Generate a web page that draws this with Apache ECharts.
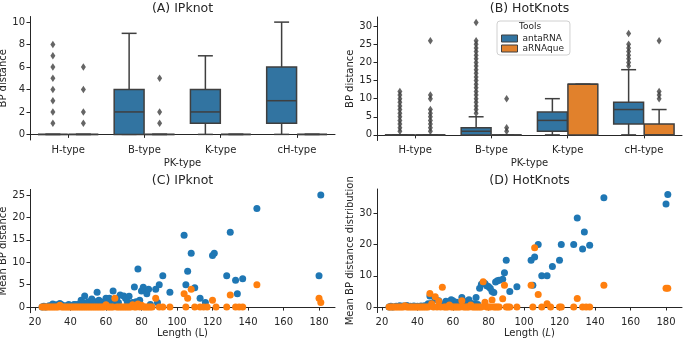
<!DOCTYPE html>
<html>
<head>
<meta charset="utf-8">
<script src="https://cdn.jsdelivr.net/npm/echarts@6/dist/echarts.min.js"></script>
<style>
  html, body { margin: 0; padding: 0; background: #fff; }
  #chart { width: 685px; height: 340px; }
</style>
</head>
<body>
<div id="chart"></div>
<script>
// ---- data ----
var pkTypes = ['H-type', 'B-type', 'K-type', 'cH-type'];

// box stats per PK-type: [min, q1, median, q3, max]
var ipknotAntaBox = [[0, 0, 0, 0, 0], [0, 0, 2, 4, 9], [0, 1, 2, 4, 7], [0, 1, 3, 6, 10]];
var ipknotAqueBox = [[0, 0, 0, 0, 0], [0, 0, 0, 0, 0], [0, 0, 0, 0, 0], [0, 0, 0, 0, 0]];
var ipknotAntaOut = [[1, 2, 3, 4, 5, 6, 7, 8], [], [], []];
var ipknotAqueOut = [[1, 2, 4, 6], [1, 2, 5], [], []];

var hotAntaBox = [[0, 0, 0, 0, 0], [0, 0, 1, 2, 5], [0, 1, 4, 6.3, 10], [0, 3, 7, 9, 18]];
var hotAqueBox = [[0, 0, 0, 0, 0], [0, 0, 0, 0, 0], [0, 0, 14, 14, 14], [0, 0, 0, 3, 7]];
var hotAntaOut = [
  [1, 2, 3, 4, 5, 6, 7, 8, 9, 10, 11, 12],
  [6, 7, 8, 9, 10, 11, 12, 13, 14, 15, 16, 17, 18, 19, 20, 21, 22, 23, 24, 25, 26, 31],
  [],
  [19, 20, 21, 22, 23, 24, 25, 28]
];
var hotAqueOut = [[1, 2, 3, 4, 5, 6, 7, 10, 11, 26], [1, 2, 10], [], [10, 11, 12, 26]];

// mean BP distance vs length [L, distance]
var ipknotLenAnta = [
  [24, 0], [25, 0.2], [26, 0], [28, 0.3], [30, 0.7], [32, 0.5], [34, 0.8], [35, 0.5], [37, 0.3],
  [39, 0.6], [40, 0.2], [42, 0.6], [43, 0.5], [44, 0.6], [46, 1.5], [47, 1], [48, 2.5], [50, 1.2],
  [52, 1.8], [53, 1.3], [54, 1], [55, 3.3], [56, 1.5], [57, 1.2], [58, 1], [60, 2], [61, 1.9],
  [62, 2], [63, 1], [64, 3.6], [65, 1], [66, 2], [67, 1], [68, 2.7], [70, 2.5], [71, 2], [72, 1.2],
  [73, 2.4], [74, 0.8], [75, 1], [76, 4.5], [77, 1.2], [78, 8.5], [79, 1.5], [80, 3.6], [81, 4.4],
  [82, 3.8], [83, 3], [84, 4], [85, 0.6], [88, 4], [89, 1], [90, 5], [92, 7], [96, 3.3], [104, 16],
  [105, 5], [106, 8], [108, 12], [110, 4.3], [113, 2], [116, 1], [120, 11.5], [121, 12], [128, 7],
  [130, 16.7], [133, 6], [134, 3], [137, 6.3], [145, 22], [180, 7], [181, 25]
];
var ipknotLenAque = [
  [24, 0], [25, 0], [26, 0], [27, 0], [28, 0], [29, 0], [30, 0], [31, 0], [32, 0], [33, 0], [34, 0.4],
  [35, 0], [36, 0], [37, 0], [38, 0], [39, 0], [40, 0], [41, 0], [42, 0], [43, 0], [44, 0], [45, 0],
  [46, 0], [47, 0], [48, 0], [49, 0], [50, 0], [51, 0], [52, 0], [53, 0], [54, 0], [55, 0], [56, 0],
  [57, 0], [58, 0], [59, 0], [60, 0.5], [61, 0], [62, 0], [63, 0], [64, 0], [65, 2], [66, 0], [67, 0],
  [68, 0], [69, 0], [70, 0], [71, 0], [72, 0], [73, 0], [74, 0], [75, 0.5], [76, 0], [77, 0],
  [78, 0.7], [79, 0], [80, 0.4], [81, 0], [82, 0], [83, 0], [84, 0], [85, 0], [86, 0], [88, 2],
  [90, 0], [92, 0], [96, 0], [104, 3], [105, 0], [106, 2], [108, 4], [110, 0], [113, 0], [115, 0],
  [117, 0], [120, 1.5], [122, 0], [128, 0], [130, 2.7], [133, 0], [135, 0], [137, 0], [145, 5],
  [180, 2], [181, 1]
];
var hotLenAnta = [
  [24, 0], [25, 0.2], [26, 0], [28, 0.2], [30, 0.4], [32, 0.3], [34, 0.5], [36, 0.2], [38, 0.3],
  [40, 0.2], [42, 0.3], [44, 0.4], [46, 1], [47, 3.5], [48, 1.2], [50, 2.5], [52, 2], [53, 1],
  [55, 0.8], [56, 1.8], [57, 1.5], [59, 2.3], [60, 2], [62, 1.5], [63, 0.8], [65, 3], [66, 1.5],
  [68, 1.8], [69, 2.3], [70, 1.2], [72, 1], [73, 3], [74, 0.8], [75, 6], [76, 7.3], [77, 7.8],
  [78, 7.5], [79, 6.8], [80, 6.6], [81, 6], [82, 5], [83, 4.6], [84, 8], [85, 8.4], [86, 8.6],
  [88, 8.9], [89, 11], [90, 15], [92, 5], [96, 6.5], [104, 15], [105, 7], [106, 16], [108, 20],
  [110, 10], [113, 10], [116, 13], [120, 15], [121, 20], [128, 20], [130, 28.5], [133, 18.6],
  [134, 24], [137, 19.8], [145, 35], [180, 33], [181, 36]
];
var hotLenAque = [
  [24, 0], [25, 0], [26, 0], [27, 0], [28, 0], [29, 0], [30, 0], [31, 0], [32, 0], [33, 0.4],
  [34, 0], [35, 0], [36, 0], [37, 0], [38, 0], [39, 0], [40, 0], [41, 0], [42, 0], [43, 0], [44, 0],
  [45, 0], [46, 0], [47, 4.3], [48, 1], [49, 0], [50, 3.3], [51, 0], [52, 1.8], [53, 0], [54, 6.3],
  [55, 0], [56, 0], [57, 0], [58, 0.6], [59, 0], [60, 0], [61, 0], [62, 0], [63, 0], [64, 0],
  [65, 2], [66, 0], [67, 0], [68, 0], [69, 0], [70, 0.6], [71, 0], [72, 0], [73, 0], [74, 0],
  [75, 0], [76, 0], [77, 8.1], [78, 1.5], [79, 0], [80, 0], [81, 0], [82, 2.2], [83, 0], [84, 0],
  [85, 0], [86, 0], [88, 2.6], [89, 7], [90, 0], [91, 0], [92, 0], [96, 0], [104, 7], [105, 0],
  [106, 19], [108, 4], [110, 0], [113, 1], [115, 0], [120, 0], [121, 0], [128, 0], [130, 2.7],
  [133, 0], [135, 0], [137, 0], [145, 7], [180, 6], [181, 6]
];

// tick labels
var ipknotBoxTicks = [0, 2, 4, 6, 8, 10];
var hotBoxTicks = [0, 5, 10, 15, 20, 25, 30];
var lengthTicks = [20, 40, 60, 80, 100, 120, 140, 160, 180];
var ipknotLenTicks = [0, 5, 10, 15, 20, 25];
var hotLenTicks = [0, 10, 20, 30];

// ---- style ----
var blueBox = '#3274a1', orangeBox = '#e1812c';
var blueDot = '#1f77b4', orangeDot = '#ff7f0e';
var edge = '#3f3f3f';
var ink = '#262626';
var plotW = 305;
var bandOffset = plotW / pkTypes.length * 0.2;

function boxRender(side, fill) {
  return function (params, api) {
    var cat = api.value(0);
    var band = api.size([1, 0])[0];
    var w = band * 0.392;
    var cx = api.coord([cat, 0])[0] + side * band * 0.2;
    function y(i) { return api.coord([cat, api.value(i)])[1]; }
    var ymin = y(1), yq1 = y(2), ymed = y(3), yq3 = y(4), ymax = y(5);
    var ls = { stroke: edge, lineWidth: 1.5 };
    return {
      type: 'group',
      children: [
        { type: 'line', shape: { x1: cx, y1: yq3, x2: cx, y2: ymax }, style: ls },
        { type: 'line', shape: { x1: cx, y1: yq1, x2: cx, y2: ymin }, style: ls },
        { type: 'line', shape: { x1: cx - w / 4, y1: ymax, x2: cx + w / 4, y2: ymax }, style: ls },
        { type: 'line', shape: { x1: cx - w / 4, y1: ymin, x2: cx + w / 4, y2: ymin }, style: ls },
        { type: 'rect', shape: { x: cx - w / 2, y: yq3, width: w, height: yq1 - yq3 },
          style: { fill: fill, stroke: edge, lineWidth: 1.5 } },
        { type: 'line', shape: { x1: cx - w / 2, y1: ymed, x2: cx + w / 2, y2: ymed }, style: ls }
      ]
    };
  };
}

function boxSeries(name, stats, idx, side, fill) {
  return {
    name: name, type: 'custom', xAxisIndex: idx, yAxisIndex: idx,
    itemStyle: { color: fill },
    renderItem: boxRender(side, fill),
    encode: { x: 0, y: [1, 2, 3, 4, 5] },
    data: stats.map(function (b, i) { return [i].concat(b); }),
    z: 2
  };
}

function outlierSeries(name, outs, idx, side) {
  var pts = [];
  outs.forEach(function (vals, i) {
    vals.forEach(function (v) { pts.push([i, v]); });
  });
  return {
    name: name, type: 'scatter', xAxisIndex: idx, yAxisIndex: idx,
    symbol: 'diamond', symbolSize: [5, 7.5],
    symbolOffset: [side * bandOffset, 0],
    itemStyle: { color: edge },
    data: pts, z: 3
  };
}

function dotSeries(name, pts, idx, color) {
  return {
    name: name, type: 'scatter', xAxisIndex: idx, yAxisIndex: idx,
    symbolSize: 7, itemStyle: { color: color, opacity: 1 },
    data: pts
  };
}

var axisLine = { show: true, lineStyle: { color: ink, width: 1 } };
var axisTick = { show: true, length: 3.5, lineStyle: { color: ink, width: 1 } };
var labelStyle = { color: ink, fontSize: 10, margin: 5 };
var nameStyle = { color: ink, fontSize: 10 };

function catAxis(idx) {
  return {
    gridIndex: idx, type: 'category', data: pkTypes,
    axisLine: axisLine,
    axisTick: Object.assign({ alignWithLabel: true }, axisTick),
    axisLabel: labelStyle,
    splitLine: { show: false },
    name: 'PK-type', nameLocation: 'middle', nameGap: 18, nameTextStyle: nameStyle
  };
}

function valAxis(idx, min, max, ticks, name, gap, nameTextStyle) {
  return {
    gridIndex: idx, type: 'value', min: min, max: max,
    axisLine: axisLine,
    axisTick: Object.assign({ customValues: ticks }, axisTick),
    axisLabel: Object.assign({ customValues: ticks }, labelStyle),
    splitLine: { show: false },
    name: name, nameLocation: 'middle', nameGap: gap,
    nameTextStyle: nameTextStyle || nameStyle
  };
}

function panelTitle(text, x, y) {
  return {
    text: text, left: x, top: y, textAlign: 'center', padding: 0,
    textStyle: { color: ink, fontSize: 12.5, fontWeight: 'normal' }
  };
}

var chart = echarts.init(document.getElementById('chart'));
var option = {
  animation: false,
  backgroundColor: '#fff',
  textStyle: { fontFamily: 'DejaVu Sans' },
  title: [
    panelTitle('(A) IPknot', 182.5, 2),
    panelTitle('(B) HotKnots', 529.5, 2),
    panelTitle('(C) IPknot', 182.5, 174),
    panelTitle('(D) HotKnots', 529.5, 174)
  ],
  grid: [
    { left: 30, top: 16.5, width: plotW, height: 123.5, containLabel: false, outerBoundsMode: 'none' },
    { left: 377, top: 17, width: plotW, height: 123.5, containLabel: false, outerBoundsMode: 'none' },
    { left: 30, top: 189.4, width: plotW, height: 123.3, containLabel: false, outerBoundsMode: 'none' },
    { left: 377, top: 189, width: plotW, height: 123.6, containLabel: false, outerBoundsMode: 'none' }
  ],
  xAxis: [
    catAxis(0),
    catAxis(1),
    valAxis(2, 17.2, 189, lengthTicks, 'Length (L)', 15),
    valAxis(3, 17.2, 189, lengthTicks, 'Length ({i|L})', 15,
      { color: ink, fontSize: 10, rich: { i: { fontStyle: 'italic', fontSize: 10, color: ink } } })
  ],
  yAxis: [
    valAxis(0, -0.5, 10.5, ipknotBoxTicks, 'BP distance', 19),
    valAxis(1, -1.55, 32.55, hotBoxTicks, 'BP distance', 22),
    valAxis(2, -1.25, 26.25, ipknotLenTicks, 'Mean BP distance', 19),
    valAxis(3, -1.8, 37.8, hotLenTicks, 'Mean BP distance distribution', 20)
  ],
  legend: {
    orient: 'vertical', left: 497, top: 21,
    padding: [13, 6, 2, 4], itemGap: 1, itemWidth: 16, itemHeight: 7,
    backgroundColor: 'rgba(255,255,255,0.8)',
    borderColor: '#d0d0d0', borderWidth: 1, borderRadius: 3,
    textStyle: { color: ink, fontSize: 9 },
    data: [
      { name: 'antaRNA', icon: 'rect', itemStyle: { color: blueBox, borderColor: edge, borderWidth: 1 } },
      { name: 'aRNAque', icon: 'rect', itemStyle: { color: orangeBox, borderColor: edge, borderWidth: 1 } }
    ]
  },
  graphic: [{
    type: 'text', x: 530, y: 27, z: 100,
    style: { text: 'Tools', fontSize: 9, fill: ink, align: 'center', verticalAlign: 'middle', fontFamily: 'DejaVu Sans' }
  }],
  series: [
    boxSeries('antaRNA', ipknotAntaBox, 0, -1, blueBox),
    boxSeries('aRNAque', ipknotAqueBox, 0, 1, orangeBox),
    outlierSeries('antaRNA', ipknotAntaOut, 0, -1),
    outlierSeries('aRNAque', ipknotAqueOut, 0, 1),
    boxSeries('antaRNA', hotAntaBox, 1, -1, blueBox),
    boxSeries('aRNAque', hotAqueBox, 1, 1, orangeBox),
    outlierSeries('antaRNA', hotAntaOut, 1, -1),
    outlierSeries('aRNAque', hotAqueOut, 1, 1),
    dotSeries('antaRNA', ipknotLenAnta, 2, blueDot),
    dotSeries('aRNAque', ipknotLenAque, 2, orangeDot),
    dotSeries('antaRNA', hotLenAnta, 3, blueDot),
    dotSeries('aRNAque', hotLenAque, 3, orangeDot)
  ]
};
chart.setOption(option);
</script>
</body>
</html>
